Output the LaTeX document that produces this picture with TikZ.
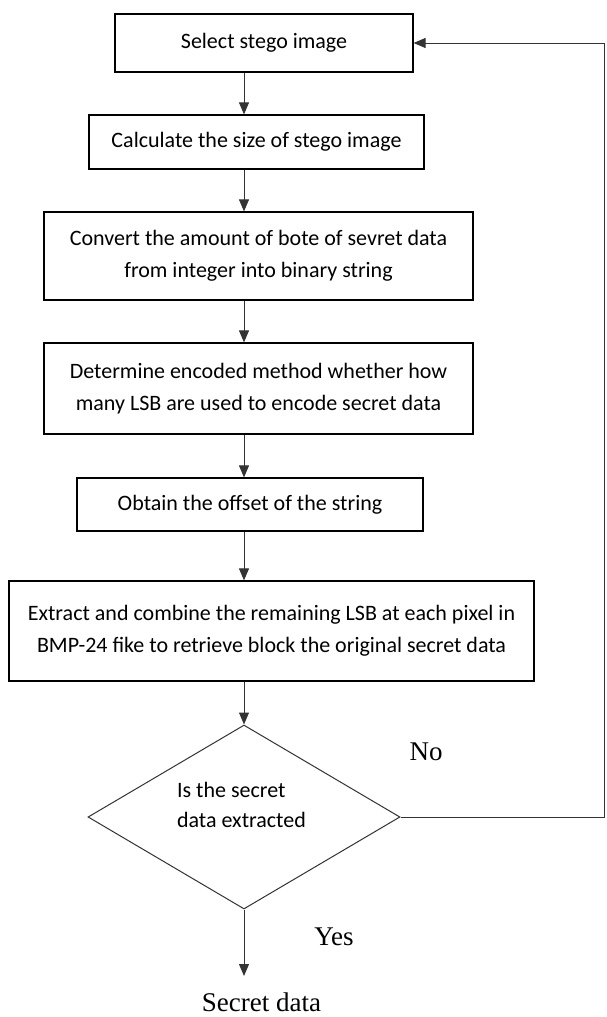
\documentclass[tikz,border=0pt]{standalone}
\usepackage{fontspec}
\setmainfont{Carlito}
\newfontfamily\timesfont{Liberation Serif}
\usetikzlibrary{shapes.geometric,arrows.meta}

\begin{document}
\begin{tikzpicture}[x=0.5pt,y=-0.5pt,
    box/.style={draw, line width=0.6pt, align=center, inner sep=0pt,
                font=\fontsize{11}{16}\selectfont},
    decision/.style={draw=black!80, diamond, line width=0.5pt, inner sep=0pt,
                minimum width=156pt, minimum height=92pt},
    lbl/.style={font=\timesfont\fontsize{13.5}{15}\selectfont},
    arr/.style={draw=black!80, line width=0.5pt, -{Triangle[length=6pt,width=5pt]}}]
    \useasboundingbox (0,0) rectangle (606,1017);
    \node[box, minimum width=149pt, minimum height=29pt] (b1) at (264,43) {Select stego image};
    \node[box, minimum width=167.5pt, minimum height=27pt] (b2) at (256.5,142) {Calculate the size of stego image};
    \node[box, minimum width=214.5pt, minimum height=44pt] (b3) at (258.5,256)
        {Convert the amount of bote of sevret data\\from integer into binary string};
    \node[box, minimum width=214.5pt, minimum height=45.5pt] (b4) at (258.5,388.5)
        {Determine encoded method whether how\\many LSB are used to encode secret data};
    \node[box, minimum width=173pt, minimum height=26.5pt] (b5) at (250,504.5) {Obtain the offset of the string};
    \node[box, minimum width=262.5pt, minimum height=50pt] (b6) at (271.5,631)
        {Extract and combine the remaining LSB at each pixel in\\BMP-24 fike to retrieve block the original secret data};
    \node[decision] (dec) at (244,817) {};
    \node[align=left, anchor=west, font=\fontsize{11}{15}\selectfont] (dectxt) at (170,805)
        {Is the secret\\data extracted};
    \node[lbl, anchor=north, inner sep=8pt] (out) at (261.5,976) {Secret data};
    \node[lbl] (no) at (426,752) {No};
    \node[lbl] (yes) at (334,937) {Yes};
    \coordinate (back) at (604,817);
    % main flow
    \draw[arr] (b1.south -| dec.north) -- (b2.north -| dec.north);
    \draw[arr] (b2.south -| dec.north) -- (b3.north -| dec.north);
    \draw[arr] (b3.south -| dec.north) -- (b4.north -| dec.north);
    \draw[arr] (b4.south -| dec.north) -- (b5.north -| dec.north);
    \draw[arr] (b5.south -| dec.north) -- (b6.north -| dec.north);
    \draw[arr] (b6.south -| dec.north) -- (dec.north);
    \draw[arr] (dec.south) -- (dec.south |- out.north);
    % loop back
    \draw[arr] (dec.east) -- (back) |- (b1.east);
\end{tikzpicture}
\end{document}
